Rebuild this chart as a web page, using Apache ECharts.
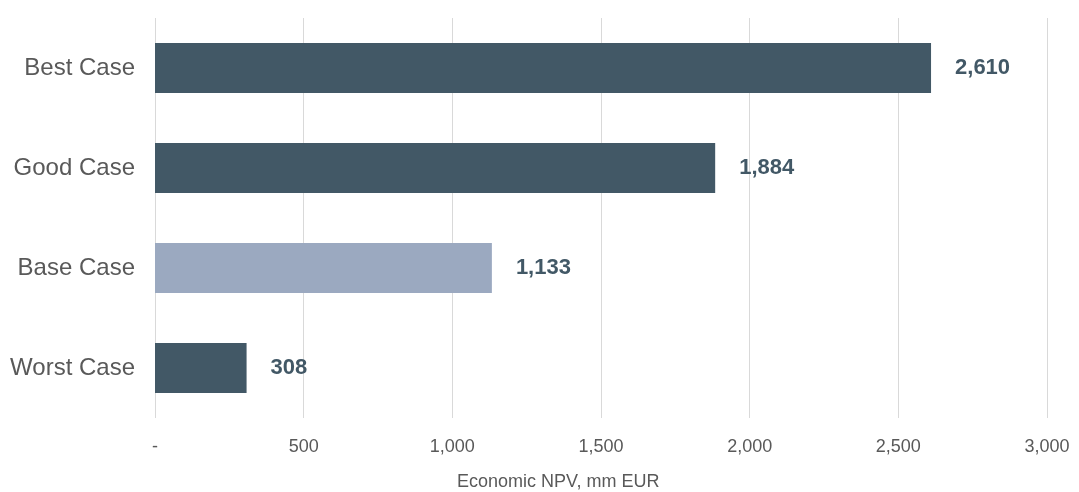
<!DOCTYPE html>
<html>
<head>
<meta charset="utf-8">
<script src="https://cdn.jsdelivr.net/npm/echarts@6/dist/echarts.min.js"></script>
<style>
  html, body { margin: 0; padding: 0; background: #ffffff; }
  #chart { width: 1079px; height: 492px; }
</style>
</head>
<body>
<div id="chart"></div>
<script>
// Scenario outcomes, economic NPV in mm EUR
const categories = ['Best Case', 'Good Case', 'Base Case', 'Worst Case'];
const npvValues = [2610, 1884, 1133, 308];
const barColors = ['#425866', '#425866', '#9BA9C0', '#425866'];
const axisMax = 3000;
const axisStep = 500;
const axisTitle = 'Economic NPV, mm EUR';

const fmt = v => v === 0 ? '-' : v.toLocaleString('en-US');

const chart = echarts.init(document.getElementById('chart'));
chart.setOption({
  animation: false,
  backgroundColor: '#ffffff',
  textStyle: { fontFamily: 'Liberation Sans, Arial, sans-serif' },
  grid: { left: 155, right: 32, top: 18, bottom: 74, containLabel: false },
  title: {
    text: axisTitle,
    left: 452,
    top: 468,
    textStyle: { fontSize: 18, fontWeight: 'normal', color: '#595959' }
  },
  xAxis: {
    type: 'value',
    min: 0,
    max: axisMax,
    interval: axisStep,
    axisLine: { show: false },
    axisTick: { show: false },
    splitLine: { show: true, lineStyle: { color: '#d9d9d9', width: 1 } },
    axisLabel: {
      formatter: fmt,
      fontSize: 18,
      color: '#595959',
      margin: 20
    }
  },
  yAxis: {
    type: 'category',
    data: categories,
    inverse: true,
    axisLine: { show: false },
    axisTick: { show: false },
    axisLabel: { fontSize: 24, color: '#595959', margin: 20 }
  },
  series: [{
    type: 'bar',
    data: npvValues.map((v, i) => ({ value: v, itemStyle: { color: barColors[i] } })),
    barCategoryGap: '50%',
    label: {
      show: true,
      position: 'right',
      distance: 24,
      formatter: p => fmt(p.value),
      fontSize: 22,
      fontWeight: 'bold',
      color: '#425866'
    }
  }]
});
</script>
</body>
</html>
